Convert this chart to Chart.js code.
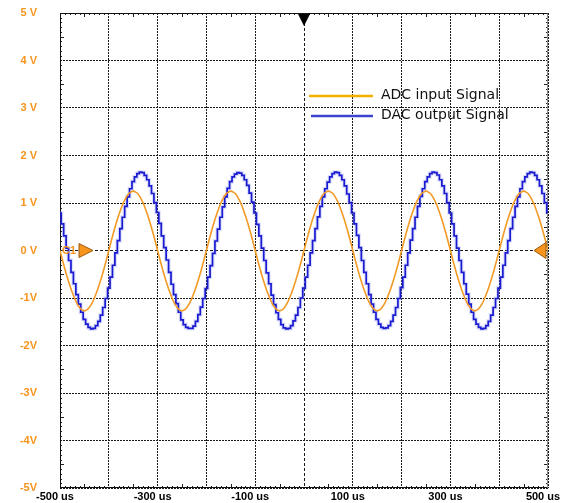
<!DOCTYPE html>
<html>
<head>
<meta charset="utf-8">
<script src="https://cdn.jsdelivr.net/npm/chart.js@4.4.1/dist/chart.umd.min.js"></script>
<style>
  html, body { margin: 0; padding: 0; background: #fff; }
  #wrap { width: 563px; height: 503px; position: relative; }
</style>
</head>
<body>
<div id="wrap"><canvas id="scope"></canvas></div>
<script>
// ---------- data (time in us, level in V) ----------
var timeUs = [
  -500,-495,-490,-485,-480,-475,-470,-465,-460,-455,-450,-445,-440,-435,-430,-425,-420,-415,-410,-405,
  -400,-395,-390,-385,-380,-375,-370,-365,-360,-355,-350,-345,-340,-335,-330,-325,-320,-315,-310,-305,
  -300,-295,-290,-285,-280,-275,-270,-265,-260,-255,-250,-245,-240,-235,-230,-225,-220,-215,-210,-205,
  -200,-195,-190,-185,-180,-175,-170,-165,-160,-155,-150,-145,-140,-135,-130,-125,-120,-115,-110,-105,
  -100,-95,-90,-85,-80,-75,-70,-65,-60,-55,-50,-45,-40,-35,-30,-25,-20,-15,-10,-5,
  0,5,10,15,20,25,30,35,40,45,50,55,60,65,70,75,80,85,90,95,
  100,105,110,115,120,125,130,135,140,145,150,155,160,165,170,175,180,185,190,195,
  200,205,210,215,220,225,230,235,240,245,250,255,260,265,270,275,280,285,290,295,
  300,305,310,315,320,325,330,335,340,345,350,355,360,365,370,375,380,385,390,395,
  400,405,410,415,420,425,430,435,440,445,450,455,460,465,470,475,480,485,490,495,
  500
];

var adcVolts = [
  0.00,-0.20,-0.39,-0.57,-0.73,-0.88,-1.01,-1.12,-1.20,-1.25,-1.27,-1.25,-1.20,-1.12,-1.01,-0.88,-0.73,-0.57,-0.39,-0.20,
  0.00,0.20,0.39,0.57,0.73,0.88,1.01,1.11,1.19,1.23,1.25,1.23,1.19,1.11,1.01,0.88,0.73,0.57,0.39,0.20,
  0.00,-0.20,-0.39,-0.57,-0.73,-0.88,-1.01,-1.12,-1.20,-1.25,-1.27,-1.25,-1.20,-1.12,-1.01,-0.88,-0.73,-0.57,-0.39,-0.20,
  0.00,0.20,0.39,0.57,0.73,0.88,1.01,1.11,1.19,1.23,1.25,1.23,1.19,1.11,1.01,0.88,0.73,0.57,0.39,0.20,
  0.00,-0.20,-0.39,-0.57,-0.73,-0.88,-1.01,-1.12,-1.20,-1.25,-1.27,-1.25,-1.20,-1.12,-1.01,-0.88,-0.73,-0.57,-0.39,-0.20,
  0.00,0.20,0.39,0.57,0.73,0.88,1.01,1.11,1.19,1.23,1.25,1.23,1.19,1.11,1.01,0.88,0.73,0.57,0.39,0.20,
  0.00,-0.20,-0.39,-0.57,-0.73,-0.88,-1.01,-1.12,-1.20,-1.25,-1.27,-1.25,-1.20,-1.12,-1.01,-0.88,-0.73,-0.57,-0.39,-0.20,
  0.00,0.20,0.39,0.57,0.73,0.88,1.01,1.11,1.19,1.23,1.25,1.23,1.19,1.11,1.01,0.88,0.73,0.57,0.39,0.20,
  0.00,-0.20,-0.39,-0.57,-0.73,-0.88,-1.01,-1.12,-1.20,-1.25,-1.27,-1.25,-1.20,-1.12,-1.01,-0.88,-0.73,-0.57,-0.39,-0.20,
  0.00,0.20,0.39,0.57,0.73,0.88,1.01,1.11,1.19,1.23,1.25,1.23,1.19,1.11,1.01,0.88,0.73,0.57,0.39,0.20,
  0.00
];

var dacVolts = [
  0.79,0.56,0.31,0.05,-0.21,-0.46,-0.70,-0.93,-1.13,-1.30,-1.45,-1.55,-1.62,-1.65,-1.64,-1.58,-1.49,-1.36,-1.20,-1.01,
  -0.79,-0.56,-0.31,-0.05,0.21,0.46,0.70,0.93,1.13,1.30,1.45,1.55,1.62,1.65,1.64,1.58,1.49,1.36,1.20,1.01,
  0.80,0.57,0.31,0.06,-0.20,-0.46,-0.71,-0.93,-1.12,-1.30,-1.46,-1.56,-1.62,-1.64,-1.64,-1.59,-1.49,-1.35,-1.19,-1.01,
  -0.80,-0.56,-0.32,-0.06,0.20,0.45,0.70,0.92,1.13,1.31,1.45,1.55,1.61,1.64,1.63,1.58,1.49,1.37,1.21,1.02,
  0.79,0.55,0.31,0.05,-0.21,-0.47,-0.70,-0.94,-1.14,-1.31,-1.45,-1.56,-1.63,-1.65,-1.64,-1.58,-1.48,-1.36,-1.20,-1.00,
  -0.79,-0.56,-0.31,-0.05,0.21,0.46,0.71,0.93,1.13,1.30,1.44,1.55,1.62,1.65,1.64,1.58,1.49,1.36,1.19,1.01,
  0.79,0.56,0.32,0.06,-0.21,-0.46,-0.70,-0.93,-1.13,-1.30,-1.45,-1.55,-1.62,-1.64,-1.63,-1.58,-1.49,-1.36,-1.20,-1.01,
  -0.78,-0.56,-0.31,-0.05,0.22,0.46,0.70,0.93,1.14,1.30,1.45,1.55,1.62,1.65,1.64,1.59,1.49,1.36,1.20,1.01,
  0.79,0.56,0.31,0.05,-0.21,-0.46,-0.70,-0.92,-1.13,-1.30,-1.45,-1.55,-1.62,-1.65,-1.64,-1.58,-1.49,-1.36,-1.20,-1.01,
  -0.79,-0.56,-0.31,-0.05,0.21,0.46,0.70,0.93,1.13,1.30,1.45,1.55,1.62,1.65,1.64,1.58,1.49,1.36,1.20,1.01,
  0.80
];

var xTickLabels = ['-500 us', '', '-300 us', '', '-100 us', '', '100 us', '', '300 us', '', '500 us'];
var yTickLabels = ['-5V', '-4V', '-3V', '-2V', '-1V', '0 V', '1 V', '2 V', '3 V', '4 V', '5 V'];
var seriesNames = ['ADC input Signal', 'DAC output Signal'];

var ORANGE = '#F7941D';
var TRACE_ORANGE = '#F29A26';
var TRACE_BLUE = '#1A1AD0';

function gridDash(c) {
  return c.tick && c.tick.value === 0 ? [3, 2] : [2, 1];
}

/* ---------- scope frame, minor ticks, channel markers, legend ---------- */
var scopeDecor = {
  id: 'scopeDecor',
  beforeDatasetsDraw: function (chart) {
    var ctx = chart.ctx, a = chart.chartArea;
    var xs = chart.scales.x, ys = chart.scales.y;
    ctx.save();
    ctx.lineWidth = 1;

    // minor ticks, 10 per division, longer at half division
    ctx.strokeStyle = '#222';
    ctx.beginPath();
    xs.ticks.forEach(function (tk, i) {
      if (i === xs.ticks.length - 1) return;
      for (var m = 1; m < 10; m++) {
        var px = Math.round(xs.getPixelForValue(tk.value + m * 10)) + 0.5;
        var len = m === 5 ? 4 : 2;
        ctx.moveTo(px, a.top); ctx.lineTo(px, a.top + len);
        ctx.moveTo(px, a.bottom); ctx.lineTo(px, a.bottom - len);
      }
    });
    ys.ticks.forEach(function (tk, i) {
      if (i === ys.ticks.length - 1) return;
      for (var m = 1; m < 10; m++) {
        var py = Math.round(ys.getPixelForValue(tk.value + m * 0.1)) + 0.5;
        var len = m === 5 ? 4 : 2;
        ctx.moveTo(a.left, py); ctx.lineTo(a.left + len, py);
        ctx.moveTo(a.right, py); ctx.lineTo(a.right - len, py);
      }
    });
    ctx.stroke();

    // frame
    var l = Math.round(a.left) + 0.5, r = Math.round(a.right) - 0.5;
    var t = Math.round(a.top) + 0.5, b = Math.round(a.bottom) - 0.5;
    ctx.strokeStyle = '#111';
    ctx.beginPath();
    ctx.moveTo(l, t); ctx.lineTo(l, b); ctx.lineTo(r, b);
    ctx.moveTo(l, t); ctx.lineTo(r, t);
    ctx.stroke();
    ctx.strokeStyle = '#8c8c8c';
    ctx.beginPath();
    ctx.moveTo(r, t); ctx.lineTo(r, b);
    ctx.stroke();
    ctx.restore();
  },
  afterDatasetsDraw: function (chart) {
    var ctx = chart.ctx, a = chart.chartArea;
    var xs = chart.scales.x, ys = chart.scales.y;
    var x0 = xs.getPixelForValue(0), y0 = ys.getPixelForValue(0);
    ctx.save();

    // trigger position marker
    ctx.fillStyle = '#000';
    ctx.beginPath();
    ctx.moveTo(x0 - 6, a.top + 1);
    ctx.lineTo(x0 + 6, a.top + 1);
    ctx.lineTo(x0, a.top + 13);
    ctx.closePath();
    ctx.fill();

    // channel 1 ground markers
    ctx.fillStyle = ORANGE;
    ctx.strokeStyle = '#9a5a10';
    ctx.lineWidth = 1;
    ctx.beginPath();
    ctx.moveTo(a.left + 19, y0 - 7);
    ctx.lineTo(a.left + 19, y0 + 7);
    ctx.lineTo(a.left + 33, y0);
    ctx.closePath();
    ctx.fill(); ctx.stroke();
    ctx.beginPath();
    ctx.moveTo(a.right - 2, y0 - 8);
    ctx.lineTo(a.right - 2, y0 + 8);
    ctx.lineTo(a.right - 14, y0);
    ctx.closePath();
    ctx.fill(); ctx.stroke();
    ctx.font = 'bold 11px "Liberation Sans"';
    ctx.textBaseline = 'middle';
    ctx.textAlign = 'left';
    ctx.fillText('C1', a.left + 2, y0);

    // legend
    var lx = a.left + 249, ly = [96, 116];
    var cols = ['#F4B000', '#3a44cc'];
    ctx.lineWidth = 2.5;
    ctx.font = '14px "DejaVu Sans"';
    seriesNames.forEach(function (name, i) {
      ctx.strokeStyle = cols[i];
      ctx.beginPath();
      ctx.moveTo(lx + i * 2, ly[i]);
      ctx.lineTo(lx + 64, ly[i]);
      ctx.stroke();
      ctx.fillStyle = '#111';
      ctx.fillText(name, lx + 72, ly[i] - 1);
    });
    ctx.restore();
  }
};

new Chart(document.getElementById('scope'), {
  type: 'line',
  data: {
    labels: timeUs,
    datasets: [
      {
        label: seriesNames[0],
        data: adcVolts,
        borderColor: TRACE_ORANGE,
        borderWidth: 1.6,
        pointRadius: 0,
        tension: 0.3,
        order: 1
      },
      {
        label: seriesNames[1],
        data: dacVolts,
        borderColor: TRACE_BLUE,
        borderWidth: 1.7,
        pointRadius: 0,
        stepped: 'middle',
        order: 2
      },
      {
        label: 'halo',
        data: dacVolts,
        borderColor: 'rgba(120,130,235,0.25)',
        borderWidth: 4,
        pointRadius: 0,
        stepped: 'middle',
        order: 3
      }
    ]
  },
  options: {
    responsive: true,
    maintainAspectRatio: false,
    animation: false,
    layout: { padding: { top: 13, right: 15, left: 0, bottom: 0 } },
    plugins: { legend: { display: false }, tooltip: { enabled: false } },
    scales: {
      x: {
        type: 'linear',
        min: -500,
        max: 500,
        afterFit: function (s) { s.height = 15; s.paddingLeft = 0; s.paddingRight = 0; },
        ticks: {
          stepSize: 100,
          autoSkip: false,
          maxRotation: 0,
          padding: 2,
          labelOffset: -5,
          color: '#000',
          font: { family: '"Liberation Sans"', size: 11, weight: 'bold' },
          callback: function (v, i) { return xTickLabels[i]; }
        },
        grid: { drawTicks: false, color: '#1a1a1a', lineWidth: 1 },
        border: { display: false, dash: gridDash }
      },
      y: {
        min: -5,
        max: 5,
        afterFit: function (s) { s.width = 60; s.paddingTop = 0; s.paddingBottom = 0; },
        ticks: {
          stepSize: 1,
          padding: 23,
          color: ORANGE,
          font: { family: '"Liberation Sans"', size: 11, weight: 'bold' },
          callback: function (v, i) { return yTickLabels[i]; }
        },
        grid: { drawTicks: false, color: '#1a1a1a', lineWidth: 1 },
        border: { display: false, dash: gridDash }
      }
    }
  },
  plugins: [scopeDecor]
});
</script>
</body>
</html>
